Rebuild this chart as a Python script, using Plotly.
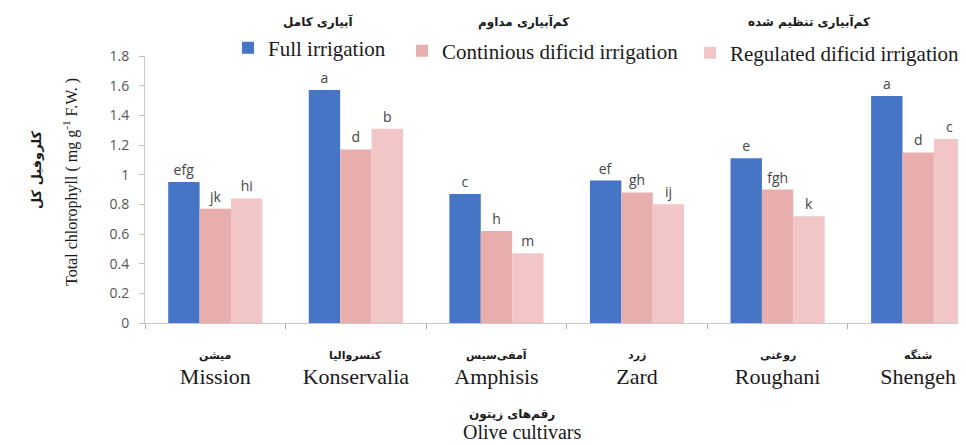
import plotly.graph_objects as go

# ---- data ----
cultivars_en = ["Mission", "Konservalia", "Amphisis", "Zard", "Roughani", "Shengeh"]
cultivars_fa = ["میشن", "کنسروالیا", "آمفی‌سیس", "زرد", "روغنی", "شنگه"]
full_irrigation = [0.95, 1.57, 0.87, 0.96, 1.11, 1.53]
continuous_deficit = [0.77, 1.17, 0.62, 0.88, 0.90, 1.15]
regulated_deficit = [0.84, 1.31, 0.47, 0.80, 0.72, 1.24]
full_letters = ["efg", "a", "c", "ef", "e", "a"]
continuous_letters = ["jk", "d", "h", "gh", "fgh", "d"]
regulated_letters = ["hi", "b", "m", "ij", "k", "c"]
series_en = ["Full irrigation", "Continious dificid irrigation", "Regulated dificid irrigation"]
series_fa = ["آبیاری کامل", "کم‌آبیاری مداوم", "کم‌آبیاری تنظیم شده"]
y_ticks = [0, 0.2, 0.4, 0.6, 0.8, 1, 1.2, 1.4, 1.6, 1.8]

# page is drawn with an 8px body margin
OFF = 8
PAGE_W, PAGE_H = 966, 446
W, H = PAGE_W - OFF, PAGE_H - OFF
AX_L, AX_T, AX_B = 145, 56, 323       # plot area in page pixels
ML, MR, MT, MB = AX_L - OFF, 0, AX_T - OFF, PAGE_H - AX_B
PW, PH = PAGE_W - AX_L, AX_B - AX_T


def px(x):
    return (x - AX_L) / PW


def py(y):
    return (AX_B - y) / PH


colors = ["#4575c4", "#e8aeae", "#f2c6c6"]
values = [full_irrigation, continuous_deficit, regulated_deficit]
letters = [full_letters, continuous_letters, regulated_letters]
xpos = list(range(len(cultivars_en)))

fig = go.Figure()
legend_ids = ["legend", "legend2", "legend3"]
for i in range(3):
    fig.add_trace(go.Bar(
        x=xpos, y=values[i], name=series_en[i],
        marker=dict(color=colors[i], line=dict(width=0)),
        text=letters[i], textposition="outside", cliponaxis=False,
        textfont=dict(family="Open Sans", size=14, color="#454545"),
        legend=legend_ids[i],
    ))

leg_font = dict(family="Liberation Serif", size=21, color="#1a1a1a")
leg_common = dict(orientation="h", font=leg_font, bgcolor="rgba(0,0,0,0)",
                  itemwidth=30, yanchor="middle", xanchor="left", traceorder="normal")

fig.update_layout(
    width=W, height=H,
    margin=dict(l=ML, r=MR, t=MT, b=MB, autoexpand=False),
    paper_bgcolor="white", plot_bgcolor="white",
    barmode="group", bargap=0.33, bargroupgap=0,
    showlegend=True,
    legend=dict(x=px(228), y=py(48), **leg_common),
    legend2=dict(x=px(402), y=py(51), **leg_common),
    legend3=dict(x=px(690), y=py(53), **leg_common),
    xaxis=dict(
        range=[-0.5, 5.34], tickmode="array", tickvals=xpos, ticktext=cultivars_en,
        ticks="", showline=True, linecolor="#c8c8c8", linewidth=1,
        ticklabelstandoff=34,
        tickfont=dict(family="Liberation Serif", size=22, color="#1a1a1a"),
        showgrid=False, zeroline=False, fixedrange=True,
        minor=dict(tickmode="linear", tick0=-0.5, dtick=1, ticks="outside",
                   ticklen=5, tickcolor="#b0b0b0", showgrid=False),
    ),
    yaxis=dict(
        range=[0, 1.8], tickmode="array", tickvals=y_ticks,
        ticktext=[f"{v:g}" for v in y_ticks],
        ticks="outside", ticklen=5, tickcolor="#c0c0c0",
        ticklabelstandoff=7,
        showline=True, linecolor="#c8c8c8", linewidth=1,
        tickfont=dict(family="Open Sans", size=14, color="#555555"),
        showgrid=False, zeroline=False, fixedrange=True,
    ),
)

common = dict(showarrow=False, xanchor="center", yanchor="middle")
annotations = [
    dict(text="Total chlorophyll ( mg g<sup>-1</sup> F.W. )", x=0, xshift=-75, y=py(182),
         xref="paper", yref="paper", textangle=-90,
         font=dict(family="Liberation Serif", size=16, color="#1a1a1a"), **common),
    dict(text="<b>کلروفیل کل</b>", x=0, xshift=-109, y=py(170),
         xref="paper", yref="paper", textangle=-90,
         font=dict(family="DejaVu Sans", size=13, color="#1a1a1a"), **common),
    dict(text="<b>رقم‌های زیتون</b>", x=px(512), y=py(414),
         xref="paper", yref="paper",
         font=dict(family="DejaVu Sans", size=12, color="#1a1a1a"), **common),
    dict(text="Olive cultivars", x=px(522), y=py(432),
         xref="paper", yref="paper",
         font=dict(family="Liberation Serif", size=20, color="#1a1a1a"), **common),
]
for fa, cx in zip(series_fa, [318, 523, 809]):
    annotations.append(dict(text=f"<b>{fa}</b>", x=px(cx), y=py(22), xref="paper", yref="paper",
                            font=dict(family="DejaVu Sans", size=12, color="#1a1a1a"), **common))
for xi, fa in zip(xpos, cultivars_fa):
    annotations.append(dict(text=f"<b>{fa}</b>", x=xi, y=py(355), xref="x", yref="paper",
                            font=dict(family="DejaVu Sans", size=11, color="#1a1a1a"), **common))
fig.update_layout(annotations=annotations)

fig.write_html("out.html")
